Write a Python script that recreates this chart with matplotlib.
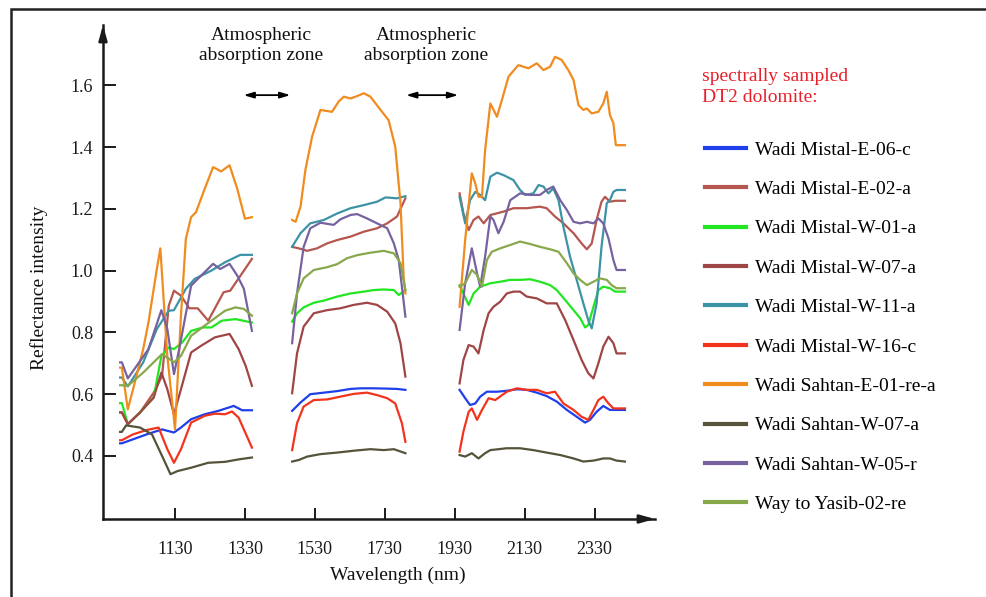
import numpy as np
import matplotlib
matplotlib.use("Agg")
import matplotlib.pyplot as plt
from matplotlib.lines import Line2D
from matplotlib.patches import Rectangle

plt.rcParams['font.family'] = ['Liberation Serif', 'DejaVu Serif']

# ---------------- data (wavelength in nm, reflectance) ----------------
mistal_e06c_wl = [973, 978, 1010, 1049, 1093, 1127, 1147, 1176, 1215, 1254, 1298, 1322, 1350,
                  1465, 1489, 1517, 1556, 1594, 1632, 1660, 1698, 1737, 1765, 1789,
                  1944, 1960, 1974, 1989, 2003, 2022, 2051, 2079, 2108, 2136, 2165, 2193, 2222,
                  2251, 2279, 2303, 2317, 2336, 2355, 2374, 2417]
mistal_e06c_r = [0.441, 0.441, 0.454, 0.470, 0.486, 0.476, 0.492, 0.519, 0.535, 0.546, 0.562, 0.548, 0.548,
                 0.546, 0.573, 0.600, 0.605, 0.610, 0.617, 0.619, 0.619, 0.618, 0.617, 0.614,
                 0.614, 0.587, 0.565, 0.570, 0.592, 0.608, 0.608, 0.611, 0.616, 0.614, 0.605, 0.594, 0.576,
                 0.549, 0.527, 0.508, 0.517, 0.543, 0.562, 0.549, 0.549]

mistal_e02a_wl = [973, 978, 995, 1030, 1069, 1093, 1112, 1127, 1147, 1171, 1195, 1225, 1269, 1288, 1350,
                  1465, 1484, 1508, 1536, 1565, 1594, 1632, 1670, 1708, 1737, 1765, 1789,
                  1944, 1955, 1970, 1984, 1998, 2013, 2032, 2070, 2098, 2136, 2174, 2193, 2217, 2241,
                  2270, 2293, 2308, 2322, 2336, 2350, 2360, 2374, 2389, 2417]
mistal_e02a_r = [0.541, 0.541, 0.503, 0.541, 0.605, 0.659, 0.886, 0.935, 0.919, 0.878, 0.878, 0.838, 0.930, 0.935, 1.038,
                 1.077, 1.072, 1.064, 1.072, 1.088, 1.099, 1.110, 1.126, 1.137, 1.153, 1.175, 1.234,
                 1.250, 1.185, 1.131, 1.164, 1.175, 1.153, 1.180, 1.191, 1.202, 1.202, 1.207, 1.202, 1.175, 1.153,
                 1.121, 1.088, 1.069, 1.088, 1.164, 1.223, 1.239, 1.223, 1.226, 1.226]

mistal_w01a_wl = [973, 978, 995, 1030, 1069, 1091, 1112, 1127, 1151, 1176, 1210, 1234, 1264, 1303, 1350,
                  1465, 1479, 1498, 1527, 1556, 1594, 1632, 1670, 1698, 1727, 1756, 1770, 1789,
                  1944, 1955, 1970, 1984, 2003, 2032, 2060, 2089, 2117, 2146, 2174, 2203, 2222, 2246,
                  2270, 2289, 2303, 2312, 2327, 2341, 2355, 2374, 2389, 2417]
mistal_w01a_r = [0.571, 0.571, 0.503, 0.541, 0.589, 0.724, 0.751, 0.746, 0.768, 0.805, 0.816, 0.816, 0.838, 0.843, 0.832,
                 0.835, 0.862, 0.881, 0.896, 0.903, 0.916, 0.926, 0.932, 0.937, 0.939, 0.937, 0.921, 0.937,
                 0.953, 0.926, 0.889, 0.926, 0.948, 0.959, 0.964, 0.970, 0.970, 0.972, 0.964, 0.953, 0.937, 0.905,
                 0.872, 0.846, 0.816, 0.824, 0.883, 0.937, 0.948, 0.943, 0.932, 0.932]

mistal_w07a_wl = [973, 978, 995, 1030, 1069, 1091, 1108, 1127, 1147, 1176, 1205, 1244, 1286, 1312, 1332, 1350,
                  1465, 1479, 1498, 1527, 1565, 1603, 1641, 1679, 1708, 1737, 1760, 1775, 1789,
                  1944, 1955, 1970, 1984, 1998, 2013, 2027, 2041, 2060, 2079, 2098, 2117, 2136, 2165,
                  2193, 2222, 2246, 2270, 2293, 2312, 2327, 2341, 2355, 2370, 2384, 2393, 2417]
mistal_w07a_r = [0.541, 0.541, 0.503, 0.541, 0.589, 0.670, 0.616, 0.535, 0.616, 0.735, 0.757, 0.784, 0.795, 0.746, 0.692, 0.627,
                 0.603, 0.732, 0.819, 0.862, 0.872, 0.878, 0.889, 0.896, 0.889, 0.867, 0.829, 0.765, 0.657,
                 0.635, 0.711, 0.759, 0.754, 0.732, 0.808, 0.862, 0.883, 0.899, 0.926, 0.932, 0.932, 0.916, 0.910,
                 0.894, 0.894, 0.840, 0.775, 0.711, 0.668, 0.651, 0.700, 0.754, 0.786, 0.765, 0.732, 0.732]

mistal_w11a_wl = [973, 978, 995, 1039, 1078, 1112, 1127, 1161, 1186, 1234, 1273, 1317, 1350,
                  1465, 1489, 1517, 1556, 1594, 1632, 1670, 1708, 1732, 1765, 1789,
                  1944, 1960, 1974, 1989, 2003, 2017, 2032, 2051, 2070, 2098, 2117, 2132, 2155, 2170,
                  2184, 2198, 2212, 2227, 2241, 2260, 2279, 2298, 2312, 2322, 2336, 2350, 2365, 2374,
                  2384, 2393, 2417]
mistal_w11a_r = [0.654, 0.654, 0.625, 0.703, 0.811, 0.870, 0.872, 0.941, 0.973, 1.000, 1.027, 1.051, 1.051,
                 1.077, 1.121, 1.153, 1.164, 1.185, 1.202, 1.212, 1.223, 1.237, 1.234, 1.241,
                 1.239, 1.153, 1.228, 1.255, 1.245, 1.228, 1.304, 1.317, 1.309, 1.293, 1.261, 1.245, 1.250, 1.277,
                 1.272, 1.250, 1.266, 1.228, 1.142, 1.045, 0.970, 0.894, 0.840, 0.813, 0.894, 1.077, 1.218, 1.228,
                 1.255, 1.261, 1.261]

mistal_w16c_wl = [973, 978, 1010, 1049, 1083, 1108, 1127, 1147, 1176, 1215, 1244, 1273, 1293, 1312, 1350,
                  1465, 1479, 1498, 1527, 1565, 1603, 1641, 1679, 1708, 1737, 1760, 1779, 1789,
                  1944, 1955, 1970, 1979, 1994, 2008, 2027, 2046, 2079, 2108, 2136, 2165, 2193, 2217,
                  2241, 2270, 2293, 2312, 2327, 2341, 2355, 2370, 2384, 2417]
mistal_w16c_r = [0.451, 0.451, 0.470, 0.484, 0.492, 0.422, 0.378, 0.422, 0.508, 0.530, 0.537, 0.535, 0.544, 0.524, 0.427,
                 0.419, 0.506, 0.560, 0.581, 0.583, 0.592, 0.601, 0.605, 0.597, 0.587, 0.570, 0.506, 0.446,
                 0.414, 0.479, 0.543, 0.554, 0.517, 0.549, 0.587, 0.581, 0.608, 0.619, 0.614, 0.614, 0.603, 0.608,
                 0.570, 0.549, 0.527, 0.517, 0.549, 0.581, 0.592, 0.570, 0.554, 0.554]

sahtan_e01rea_wl = [973, 978, 995, 1010, 1039, 1054, 1078, 1088, 1108, 1130, 1147, 1161, 1176, 1190, 1215,
                    1239, 1262, 1286, 1308, 1330, 1350,
                    1465, 1475, 1489, 1503, 1522, 1546, 1579, 1598, 1613, 1632, 1651, 1670, 1689, 1718,
                    1741, 1760, 1775, 1784, 1789,
                    1944, 1960, 1979, 1989, 1998, 2008, 2017, 2032, 2051, 2065, 2084, 2112, 2141, 2165,
                    2184, 2203, 2217, 2236, 2255, 2270, 2284, 2298, 2308, 2322, 2341, 2355, 2365, 2374,
                    2384, 2391, 2417]
sahtan_e01rea_r = [0.686, 0.686, 0.551, 0.616, 0.746, 0.832, 1.005, 1.072, 0.724, 0.486, 0.854, 1.103, 1.173, 1.189, 1.265,
                   1.335, 1.321, 1.341, 1.265, 1.168, 1.173,
                   1.164, 1.158, 1.207, 1.326, 1.433, 1.520, 1.514, 1.547, 1.563, 1.557, 1.565, 1.574, 1.563, 1.520,
                   1.487, 1.401, 1.218, 0.980, 0.926,
                   0.883, 1.099, 1.315, 1.282, 1.239, 1.239, 1.390, 1.541, 1.498, 1.552, 1.628, 1.665, 1.655, 1.671,
                   1.649, 1.660, 1.692, 1.682, 1.649, 1.617, 1.536, 1.520, 1.525, 1.509, 1.514, 1.541, 1.579, 1.504,
                   1.477, 1.406, 1.406]

sahtan_w07a_wl = [973, 978, 990, 1030, 1064, 1093, 1117, 1137, 1176, 1225, 1273, 1312, 1350,
                  1465, 1484, 1508, 1546, 1594, 1641, 1689, 1727, 1756, 1789,
                  1944, 1960, 1979, 1998, 2017, 2032, 2079, 2117, 2155, 2193, 2232, 2270, 2298, 2327,
                  2355, 2374, 2393, 2417]
sahtan_w07a_r = [0.478, 0.478, 0.499, 0.492, 0.470, 0.400, 0.341, 0.351, 0.362, 0.378, 0.381, 0.389, 0.395,
                 0.382, 0.387, 0.398, 0.406, 0.411, 0.417, 0.422, 0.419, 0.422, 0.409,
                 0.403, 0.398, 0.409, 0.392, 0.409, 0.419, 0.425, 0.425, 0.419, 0.411, 0.403, 0.392, 0.382, 0.385,
                 0.392, 0.392, 0.385, 0.382]

sahtan_w05r_wl = [973, 978, 995, 1054, 1091, 1108, 1127, 1142, 1176, 1195, 1239, 1259, 1286, 1308, 1327, 1350,
                  1465, 1479, 1498, 1517, 1546, 1584, 1603, 1632, 1651, 1679, 1708, 1737, 1756, 1770, 1779, 1789,
                  1944, 1960, 1979, 1994, 2003, 2017, 2032, 2041, 2055, 2070, 2089, 2117, 2146, 2174,
                  2193, 2212, 2232, 2251, 2270, 2289, 2308, 2327, 2341, 2355, 2370, 2384, 2393, 2417]
sahtan_w05r_r = [0.703, 0.703, 0.651, 0.746, 0.872, 0.811, 0.665, 0.746, 0.951, 0.973, 1.022, 1.005, 1.022, 0.984, 0.941, 0.805,
                 0.765, 0.926, 1.077, 1.137, 1.155, 1.148, 1.166, 1.180, 1.183, 1.169, 1.153, 1.137, 1.088, 1.034, 0.948, 0.851,
                 0.808, 0.959, 1.072, 0.991, 0.948, 1.045, 1.175, 1.164, 1.121, 1.158, 1.228, 1.250, 1.245, 1.245,
                 1.261, 1.272, 1.228, 1.196, 1.158, 1.153, 1.158, 1.153, 1.169, 1.153, 1.104, 1.034, 1.002, 1.002]

yasib_02re_wl = [973, 978, 995, 1039, 1093, 1127, 1147, 1176, 1215, 1273, 1303, 1327, 1350,
                 1465, 1479, 1498, 1527, 1565, 1594, 1622, 1651, 1689, 1727, 1756, 1775, 1789,
                 1944, 1960, 1979, 1994, 2008, 2022, 2036, 2060, 2089, 2117, 2146, 2174, 2203, 2227,
                 2251, 2270, 2289, 2308, 2327, 2345, 2365, 2379, 2393, 2417]
yasib_02re_r = [0.629, 0.629, 0.627, 0.670, 0.730, 0.703, 0.724, 0.789, 0.822, 0.870, 0.881, 0.876, 0.854,
                0.862, 0.926, 0.975, 1.002, 1.011, 1.021, 1.040, 1.050, 1.058, 1.064, 1.056, 1.024, 0.937,
                0.948, 0.959, 1.002, 0.986, 0.948, 1.034, 1.061, 1.072, 1.083, 1.094, 1.086, 1.077, 1.069, 1.061,
                1.024, 0.991, 0.970, 0.953, 0.964, 0.975, 0.970, 0.953, 0.943, 0.943]

labels = ["Wadi Mistal-E-06-c", "Wadi Mistal-E-02-a", "Wadi Mistal-W-01-a", "Wadi Mistal-W-07-a",
          "Wadi Mistal-W-11-a", "Wadi Mistal-W-16-c", "Wadi Sahtan-E-01-re-a", "Wadi Sahtan-W-07-a",
          "Wadi Sahtan-W-05-r", "Way to Yasib-02-re"]
wavelengths = [mistal_e06c_wl, mistal_e02a_wl, mistal_w01a_wl, mistal_w07a_wl, mistal_w11a_wl,
               mistal_w16c_wl, sahtan_e01rea_wl, sahtan_w07a_wl, sahtan_w05r_wl, yasib_02re_wl]
reflectances = [mistal_e06c_r, mistal_e02a_r, mistal_w01a_r, mistal_w07a_r, mistal_w11a_r,
                mistal_w16c_r, sahtan_e01rea_r, sahtan_w07a_r, sahtan_w05r_r, yasib_02re_r]
colors = ["#1f3fe8", "#b5564f", "#22e622", "#a04545", "#3d93a6", "#f2341c",
          "#f08c1e", "#55543a", "#7762a0", "#88a84c"]

xticks = [1130, 1330, 1530, 1730, 1930, 2130, 2330]
yticks = [0.4, 0.6, 0.8, 1.0, 1.2, 1.4, 1.6]

# ---------------- figure ----------------
W, H = 987, 597
fig = plt.figure(figsize=(W / 100, H / 100), dpi=100)
ax = fig.add_axes([103 / W, 1 - 519 / H, 552 / W, 494 / H])
ax.set_xlim(924, 2503)
ax.set_ylim(0.196, 1.795)

for wl, r, c in zip(wavelengths, reflectances, colors):
    wl = np.asarray(wl, float)
    r = np.asarray(r, float)
    breaks = np.where(np.diff(wl) > 80)[0] + 1
    for sw, sr in zip(np.split(wl, breaks), np.split(r, breaks)):
        ax.plot(sw, sr, color=c, lw=1.6, solid_joinstyle='round')

for s in ['top', 'right']:
    ax.spines[s].set_visible(False)
for s in ['left', 'bottom']:
    ax.spines[s].set_linewidth(1.8)
    ax.spines[s].set_color('#1a1a1a')

ax.set_xticks(xticks)
ax.set_xticklabels([str(t) for t in xticks])
ax.set_yticks(yticks)
ax.set_yticklabels([f"{t:.1f}" for t in yticks])
ax.tick_params(axis='x', direction='in', length=8, width=1.4, pad=16, labelsize=13, colors='#1a1a1a')
ax.tick_params(axis='y', direction='in', length=9, width=1.4, pad=7, labelsize=13, colors='#1a1a1a')

# axis arrows
ax.annotate('', xy=(1.0, 0), xycoords='axes fraction', xytext=(0.97, 0),
            arrowprops=dict(arrowstyle='-|>,head_length=0.9,head_width=0.25', color='#1a1a1a',
                            lw=1.8, shrinkA=0, shrinkB=0))
ax.annotate('', xy=(0, 1.0), xycoords='axes fraction', xytext=(0, 0.97),
            arrowprops=dict(arrowstyle='-|>,head_length=0.9,head_width=0.25', color='#1a1a1a',
                            lw=1.8, shrinkA=0, shrinkB=0))

# atmospheric absorption annotations
for x0, x1, xt in [(1326, 1460, 1377), (1791, 1940, 1848)]:
    ax.annotate('', xy=(x1, 1.568), xytext=(x0, 1.568),
                arrowprops=dict(arrowstyle='<|-|>,head_length=0.6,head_width=0.18', color='black',
                                lw=1.3, shrinkA=0, shrinkB=0), annotation_clip=False)
    ax.text(xt, 1.728, "Atmospheric\nabsorption zone", ha='center', va='center',
            fontsize=14, color='#111111', linespacing=1.25)

fig.text(398 / W, 1 - 575 / H, "Wavelength (nm)", ha='center', va='center', fontsize=14, color='#111111')
fig.text(39 / W, 1 - 288 / H, "Reflectance intensity", ha='center', va='center', rotation=90,
         fontsize=14, color='#111111')

# legend
fig.text(702 / W, 1 - 87 / H, "spectrally sampled\nDT2 dolomite:", ha='left', va='center',
         fontsize=14, color='#e8202c', linespacing=1.25)
handles = [Line2D([], [], color=c, lw=3) for c in colors]
fig.legend(handles, labels, loc='upper left', bbox_to_anchor=(705 / W, 1 - 141 / H),
           frameon=False, fontsize=14, handlelength=2.1, handletextpad=0.45,
           labelspacing=1.12, borderpad=0, borderaxespad=0)

# outer frame
fig.add_artist(Rectangle((11 / W, -0.05), 1.2, 1 - 9 / H + 0.05, transform=fig.transFigure,
                         fill=False, lw=1.8, edgecolor='#222222'))

fig.savefig("out.png", dpi=100)
